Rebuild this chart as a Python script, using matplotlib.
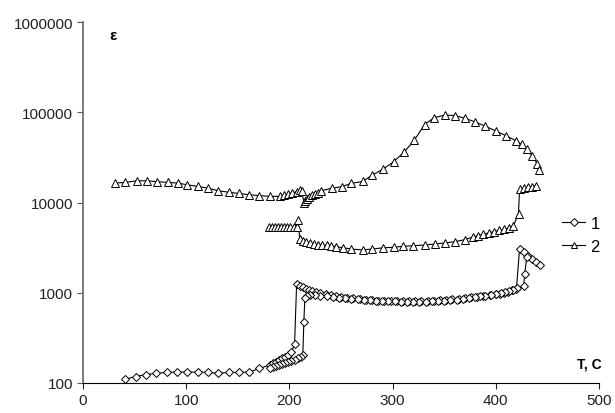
import numpy as np
import matplotlib
matplotlib.use('Agg')
import matplotlib.pyplot as plt
from matplotlib.lines import Line2D

plt.rcParams['font.family'] = ['Liberation Sans', 'DejaVu Sans']

# sample 1, heating branch
t1a = [41, 51, 61, 71, 81, 91, 101, 111, 121, 131, 141, 151, 161, 171, 181, 184, 187, 190,
       193, 196, 199, 202, 205, 207, 210, 213, 216, 219, 222, 226, 230, 235, 240, 245, 250,
       256, 262, 268, 274, 280, 286, 292, 298, 304, 310, 316, 322, 328, 334, 340, 346, 352,
       358, 364, 370, 376, 382, 388, 394, 400, 404, 408, 412, 416, 420, 423, 427, 431, 435,
       439, 443]
e1a = [110, 118, 124, 128, 131, 132, 132, 132, 131, 128, 131, 131, 132, 145, 158, 165, 172,
       180, 188, 196, 205, 220, 270, 1250, 1200, 1150, 1110, 1080, 1050, 1020, 990, 960, 940,
       920, 900, 880, 865, 850, 840, 830, 820, 815, 810, 805, 800, 800, 800, 805, 810, 820,
       830, 840, 850, 860, 870, 890, 905, 920, 940, 960, 980, 1000, 1030, 1060, 1100, 3050,
       2800, 2550, 2350, 2200, 2050]

# sample 1, cooling branch
t1b = [430, 428, 427, 421, 417, 413, 409, 405, 400, 395, 390, 385, 380, 374, 368, 362, 356,
       350, 344, 338, 332, 326, 320, 314, 308, 302, 296, 290, 284, 278, 272, 266, 260, 254,
       248, 242, 236, 230, 225, 220, 217, 215, 214, 213, 211, 208, 205, 202, 199, 196, 193,
       190, 187, 184, 181]
e1b = [2500, 1615, 1190, 1120, 1080, 1040, 1010, 990, 970, 950, 930, 910, 890, 870, 855, 840,
       830, 820, 810, 800, 795, 790, 790, 790, 795, 800, 805, 810, 820, 830, 840, 850, 860,
       870, 885, 900, 915, 930, 945, 950, 930, 875, 480, 204, 195, 188, 182, 177, 172, 167,
       163, 159, 155, 151, 148]

# sample 2, upper branch
t2a = [31, 41, 52, 62, 72, 82, 92, 101, 111, 121, 131, 141, 151, 161, 171, 181, 191, 195,
       199, 203, 207, 210, 212, 214, 215, 217, 219, 222, 225, 228, 231, 241, 251, 260, 271,
       280, 291, 301, 311, 321, 331, 340, 351, 360, 370, 380, 390, 400, 410, 420, 425, 430,
       435, 440, 442]
e2a = [16400, 16700, 17400, 17400, 17000, 16700, 16400, 15700, 15100, 14400, 13500, 13000,
       12600, 12200, 11900, 11700, 11700, 12000, 12400, 12800, 13200, 13800, 13500, 10000,
       10500, 11000, 11500, 12000, 12300, 12700, 13500, 14400, 15000, 16300, 17100, 20000,
       23500, 28300, 36000, 49000, 73000, 87000, 93000, 92000, 86000, 78000, 70000, 62000,
       55000, 48000, 44000, 39000, 33000, 27000, 23000]

# sample 2, lower branch
t2b = [180, 183, 186, 189, 192, 195, 198, 201, 204, 207, 208.6, 210, 212.8, 216, 220, 224,
       228, 232, 236, 240, 245, 252, 260, 271, 280, 291, 301, 310, 320, 331, 341, 351, 360,
       370, 378, 383, 388, 393, 398, 403, 408, 413, 417, 422, 423, 427, 431, 435, 439]
e2b = [5300, 5350, 5300, 5350, 5300, 5350, 5300, 5350, 5300, 5400, 6400, 3950, 3780, 3650,
       3550, 3480, 3420, 3380, 3340, 3300, 3250, 3150, 3050, 2980, 3050, 3150, 3190, 3270,
       3320, 3380, 3470, 3560, 3680, 3870, 4150, 4300, 4450, 4600, 4750, 4900, 5050, 5250,
       5500, 7500, 14000, 14400, 14700, 15000, 15300]

labels = ['1', '2']

fig = plt.figure(figsize=(6.15, 4.14), dpi=100, facecolor='white')
ax = fig.add_axes([83/615, 30/414, 516/615, 361/414])

st1 = dict(color='black', lw=0.8, marker='D', ms=4, mfc='white', mec='black', mew=0.7)
st2 = dict(color='black', lw=0.8, marker='^', ms=5.5, mfc='white', mec='black', mew=0.7)

ax.plot(t1a, e1a, **st1)
ax.plot(t1b, e1b, **st1)
ax.plot(t2a, e2a, **st2)
ax.plot(t2b, e2b, **st2)

ax.set_yscale('log')
ax.set_xlim(0, 500)
ax.set_ylim(100, 1000000)
ax.set_xticks([0, 100, 200, 300, 400, 500])
ax.set_yticks([100, 1000, 10000, 100000, 1000000])
ax.set_yticklabels(['100', '1000', '10000', '100000', '1000000'])
ax.minorticks_off()
ax.tick_params(axis='both', labelsize=11, colors='#222222', length=4, width=0.8, pad=3)
ax.tick_params(axis='y', colors='#555555', labelcolor='#222222')

for s in ['top', 'right']:
    ax.spines[s].set_visible(False)
ax.spines['left'].set_color('#666666')
ax.spines['left'].set_linewidth(1.2)
ax.spines['bottom'].set_color('black')
ax.spines['bottom'].set_linewidth(0.8)

ax.text(29, 720000, 'ε', fontsize=11, fontweight='bold', ha='center', va='center')
ax.text(503, 165, 'T, C', fontsize=10, fontweight='bold', ha='right', va='center', clip_on=False)

handles = [Line2D([], [], **st1), Line2D([], [], **st2)]
fig.legend(handles, labels, loc='center left', bbox_to_anchor=(562/615, 1 - 236/414),
           frameon=False, fontsize=12, handlelength=1.4, handletextpad=0.3,
           labelspacing=0.5, borderpad=0, borderaxespad=0, markerscale=0.9)

fig.savefig('out.png', dpi=100)
